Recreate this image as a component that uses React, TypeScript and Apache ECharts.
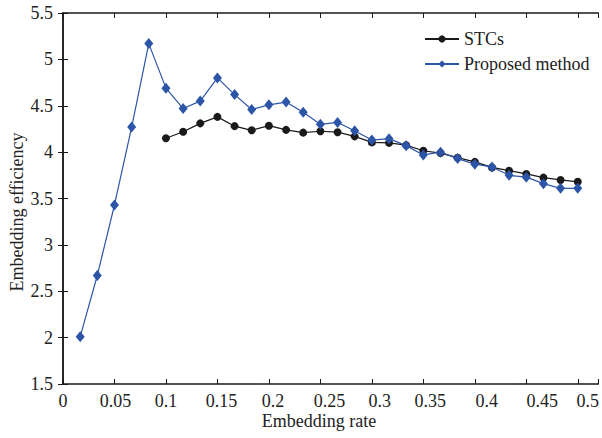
import React, { useEffect, useRef } from "react";
import * as echarts from "echarts";

const FONT = "'Liberation Serif', 'Times New Roman', serif";

// Embedding rate for the proposed method (all points)
const proposedRates = [
  0.0167, 0.0333, 0.05, 0.0667, 0.0833, 0.1, 0.1167, 0.1333, 0.15, 0.1667,
  0.1833, 0.2, 0.2167, 0.2333, 0.25, 0.2667, 0.2833, 0.3, 0.3167, 0.3333,
  0.35, 0.3667, 0.3833, 0.4, 0.4167, 0.4333, 0.45, 0.4667, 0.4833, 0.5,
];
const proposedValues = [
  2.01, 2.67, 3.43, 4.27, 5.17, 4.69, 4.47, 4.55, 4.8, 4.62,
  4.46, 4.51, 4.54, 4.43, 4.3, 4.32, 4.23, 4.13, 4.145, 4.07,
  3.97, 4.0, 3.93, 3.87, 3.84, 3.75, 3.73, 3.66, 3.61, 3.61,
];

// Embedding rate for STCs
const stcRates = [
  0.1, 0.1167, 0.1333, 0.15, 0.1667, 0.1833, 0.2, 0.2167, 0.2333, 0.25,
  0.2667, 0.2833, 0.3, 0.3167, 0.3333, 0.35, 0.3667, 0.3833, 0.4, 0.4167,
  0.4333, 0.45, 0.4667, 0.4833, 0.5,
];
const stcValues = [
  4.15, 4.22, 4.31, 4.38, 4.28, 4.235, 4.285, 4.24, 4.21, 4.225,
  4.215, 4.17, 4.105, 4.1, 4.075, 4.015, 3.99, 3.94, 3.895, 3.835,
  3.8, 3.765, 3.725, 3.7, 3.68,
];

const seriesNames = ["STCs", "Proposed method"];
const xTitle = "Embedding rate";
const yTitle = "Embedding efficiency";

// style only: horizontal nudge (px) of each x tick label, as placed in the original figure
const xLabelNudge = [0, 1, 0, 4, 4, 9, 8, 7, 12, 16, 10, 0];

export default function App() {
  const ref = useRef<HTMLDivElement>(null);

  useEffect(() => {
    if (!ref.current) return;
    const chart = echarts.init(ref.current, null, { renderer: "svg" });

    const axisLine = { show: true, lineStyle: { color: "#1a1a1a", width: 1.5 } };
    const tick = { show: true, inside: true, length: 5, lineStyle: { color: "#1a1a1a", width: 1 } };
    const xCommon = {
      type: "value" as const,
      min: 0,
      max: 0.52,
      interval: 0.05,
      splitLine: { show: false },
    };
    const yCommon = {
      type: "value" as const,
      min: 1.5,
      max: 5.5,
      interval: 0.5,
      splitLine: { show: false },
    };

    const rich: Record<string, any> = {};
    xLabelNudge.forEach((n, i) => {
      rich["p" + i] = {
        fontSize: 18,
        fontFamily: FONT,
        color: "#222",
        padding: [0, 0, 0, n * 2],
      };
    });

    const stcData = stcRates.map((r, i) => [r, stcValues[i]]);
    const propData = proposedRates.map((r, i) => [r, proposedValues[i]]);

    chart.setOption({
      animation: false,
      grid: { left: 63, top: 13, width: 537, height: 371, containLabel: false },
      xAxis: [
        {
          ...xCommon,
          position: "bottom",
          axisLine,
          axisTick: tick,
          axisLabel: {
            show: true,
            margin: 8,
            color: "#222",
            fontSize: 18,
            fontFamily: FONT,
            rich,
            formatter: (v: number, idx: number) => {
              if (v > 0.505) return "";
              const k = Math.min(idx, xLabelNudge.length - 1);
              return "{p" + k + "|" + String(Math.round(v * 100) / 100) + "}";
            },
          },
        },
        {
          ...xCommon,
          position: "top",
          axisLine,
          axisTick: tick,
          axisLabel: { show: false },
        },
      ],
      yAxis: [
        {
          ...yCommon,
          position: "left",
          axisLine,
          axisTick: tick,
          axisLabel: {
            show: true,
            margin: 10,
            color: "#222",
            fontSize: 18,
            fontFamily: FONT,
          },
        },
        {
          ...yCommon,
          position: "right",
          axisLine,
          axisTick: tick,
          axisLabel: { show: false },
        },
      ],
      legend: {
        orient: "vertical",
        left: 419,
        top: 25,
        itemWidth: 34,
        itemHeight: 9,
        itemGap: 7,
        data: seriesNames,
        textStyle: { fontSize: 18, fontFamily: FONT, color: "#222" },
      },
      graphic: [
        {
          type: "text",
          x: 319,
          y: 421,
          style: {
            text: xTitle,
            fontSize: 18,
            fontFamily: FONT,
            fill: "#222",
            textAlign: "center",
            textVerticalAlign: "middle",
          },
        },
        {
          type: "text",
          x: 17,
          y: 212,
          rotation: Math.PI / 2,
          style: {
            text: yTitle,
            fontSize: 18,
            fontFamily: FONT,
            fill: "#222",
            textAlign: "center",
            textVerticalAlign: "middle",
          },
        },
      ],
      series: [
        {
          name: seriesNames[0],
          type: "line",
          data: stcData,
          symbol: "circle",
          symbolSize: 8,
          itemStyle: { color: "#1a1a1a" },
          lineStyle: { color: "#1a1a1a", width: 1.2 },
          z: 3,
        },
        {
          name: seriesNames[1],
          type: "line",
          data: propData,
          symbol: "diamond",
          symbolSize: [9, 11],
          itemStyle: { color: "#2c55a8" },
          lineStyle: { color: "#2c55a8", width: 1.2 },
          z: 4,
        },
      ],
    });

    return () => chart.dispose();
  }, []);

  return (
    <div
      ref={ref}
      style={{ position: "fixed", left: 0, top: 0, width: 602, height: 438, background: "#fff" }}
    />
  );
}
